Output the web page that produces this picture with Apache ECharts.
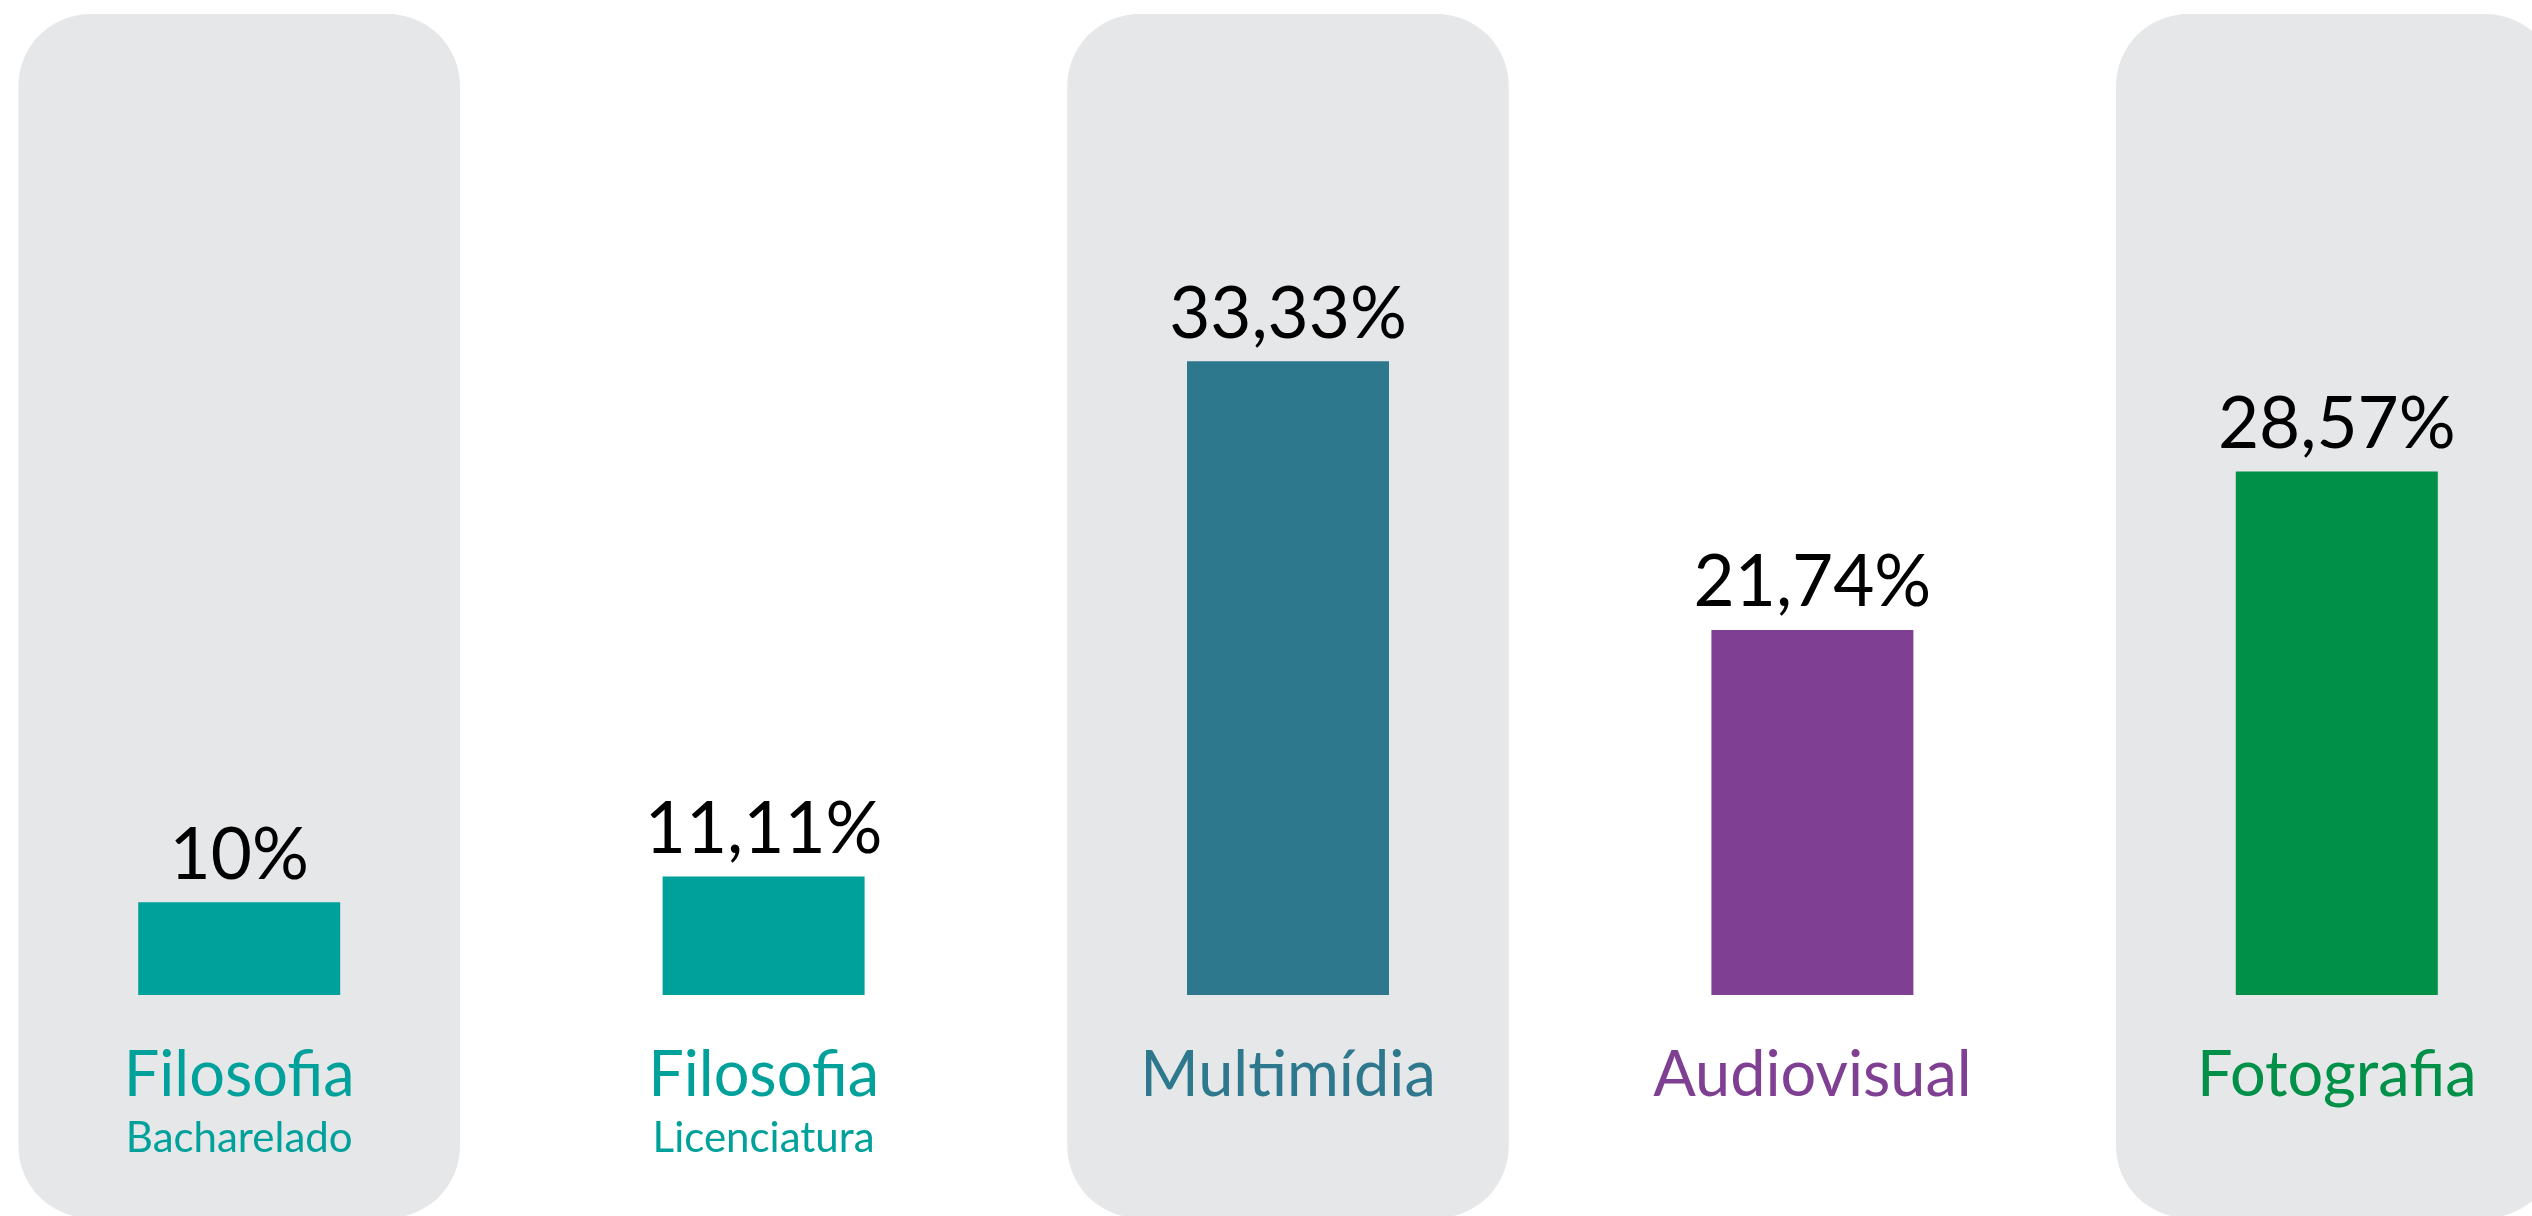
<!DOCTYPE html>
<html>
<head>
<meta charset="utf-8">
<title>Cursos</title>
<script src="https://cdn.jsdelivr.net/npm/echarts@6/dist/echarts.min.js"></script>
<style>
  html, body { margin: 0; padding: 0; background: #ffffff; overflow: hidden; }
  #wrap { position: relative; width: 2532px; height: 1216px; overflow: hidden; }
  /* the plot runs slightly past both page edges */
  #chart { position: absolute; left: -23px; top: 0; width: 2622px; height: 1216px; }
</style>
</head>
<body>
<div id="wrap"><div id="chart"></div></div>
<script>
// Course names, optional second line, and share of each course
const courses = ['Filosofia', 'Filosofia', 'Multimídia', 'Audiovisual', 'Fotografia'];
const courseSubtitles = ['Bacharelado', 'Licenciatura', '', '', ''];
const shares = [10, 11.11, 33.33, 21.74, 28.57];
const shareLabels = ['10%', '11,11%', '33,33%', '21,74%', '28,57%'];
const courseColors = ['#00a19a', '#00a19a', '#2d788c', '#7f3f93', '#009047'];
// Courses that sit on a shaded column
const shadedCourses = [0, 2, 4];

const FONT = 'Lato';
const Y_MIN = 6;
const Y_MAX = 48.3;

const categoryKeys = courses.map((c, i) => c + '|' + i);

const rich = {};
courseColors.forEach((col, i) => {
  rich['m' + i] = { fontFamily: FONT, fontSize: 63, lineHeight: 74, color: col, align: 'center' };
  rich['s' + i] = { fontFamily: FONT, fontSize: 42, lineHeight: 50, color: col, align: 'center' };
});

const chart = echarts.init(document.getElementById('chart'), null, { renderer: 'canvas' });

chart.setOption({
  backgroundColor: '#ffffff',
  animation: false,
  grid: { left: 0, right: 0, top: 14, bottom: 221, containLabel: false },
  xAxis: {
    type: 'category',
    data: categoryKeys,
    boundaryGap: true,
    axisLine: { show: false },
    axisTick: { show: false },
    splitLine: { show: false },
    axisLabel: {
      interval: 0,
      margin: 44,
      formatter: (value, idx) => {
        const main = '{m' + idx + '|' + courses[idx] + '}';
        return courseSubtitles[idx] ? main + '\n{s' + idx + '|' + courseSubtitles[idx] + '}' : main;
      },
      rich: rich
    }
  },
  yAxis: {
    type: 'value',
    min: Y_MIN,
    max: Y_MAX,
    show: false,
    splitLine: { show: false }
  },
  series: [
    {
      // rounded grey columns behind selected courses
      type: 'custom',
      z: 0,
      silent: true,
      clip: false,
      data: shadedCourses.map(i => [categoryKeys[i]]),
      encode: { x: 0 },
      renderItem: (params, api) => {
        const cx = api.coord([api.value(0), Y_MIN])[0];
        const w = api.size([1, 0])[0] * 0.842;
        return {
          type: 'rect',
          shape: { x: cx - w / 2, y: 14, width: w, height: 1204, r: 72 },
          style: { fill: '#e6e7e9' }
        };
      }
    },
    {
      type: 'bar',
      z: 2,
      barWidth: 202,
      data: shares.map((v, i) => ({ value: v, itemStyle: { color: courseColors[i] } })),
      label: {
        show: true,
        position: 'top',
        distance: 11,
        fontFamily: FONT,
        fontSize: 71,
        lineHeight: 71,
        color: '#000000',
        formatter: p => shareLabels[p.dataIndex]
      }
    }
  ]
});
</script>
</body>
</html>
